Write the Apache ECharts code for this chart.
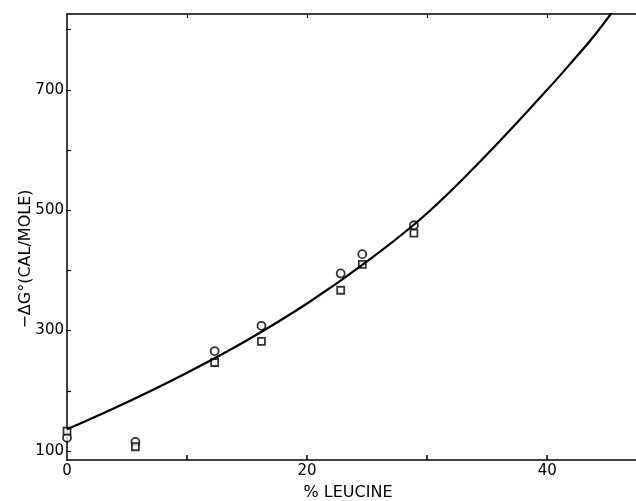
<!DOCTYPE html>
<html>
<head>
<meta charset="utf-8">
<script src="https://cdn.jsdelivr.net/npm/echarts@6/dist/echarts.min.js"></script>
<style>
  html, body { margin: 0; padding: 0; background: #fff; }
  #chart { width: 636px; height: 501px; }
</style>
</head>
<body>
<div id="chart"></div>
<script>
// points
const leucine = [0, 5.7, 12.3, 16.2, 22.8, 24.6, 28.9]
const circleVals = [122, 115, 266, 308, 395, 427, 475]
const squareVals = [133, 107, 247, 282, 367, 410, 462]

// fitted curve
const curveX = [0, 5, 10, 15, 20, 25, 30, 35, 40, 42, 44, 46]
const curveY = [136, 181, 230, 284, 345, 415, 495, 593, 700, 745, 792, 845]

const yTicks = [100, 200, 300, 400, 500, 600, 700, 800]
const yLabels = [100, 300, 500, 700]
const xTicks = [10, 20, 30, 40]
const xLabels = [0, 20, 40]

const font = 'DejaVu Sans'
const pair = (xs, ys) => xs.map((x, i) => [x, ys[i]])

const myChart = echarts.init(document.getElementById('chart'))
const option = {
  animation: false,
  grid: { left: 67, right: 0, top: 14, bottom: 41 },
  xAxis: [
    {
      type: 'value', min: 0, max: 47.4,
      axisLine: { lineStyle: { color: '#000', width: 1.5 } },
      axisTick: { inside: true, length: 5, customValues: xTicks, lineStyle: { color: '#000', width: 1.5 } },
      axisLabel: { customValues: xLabels, color: '#000', fontFamily: font, fontSize: 15, margin: 4 },
      splitLine: { show: false }
    },
    {
      type: 'value', min: 0, max: 47.4, position: 'top',
      axisLine: { show: true, lineStyle: { color: '#000', width: 1.5 } },
      axisTick: { inside: true, length: 4, customValues: xTicks, lineStyle: { color: '#000', width: 1.2 } },
      axisLabel: { show: false },
      splitLine: { show: false }
    }
  ],
  yAxis: {
    type: 'value', min: 85, max: 826,
    axisLine: { show: true, lineStyle: { color: '#000', width: 1.5 } },
    axisTick: { show: true, inside: true, length: 4, customValues: yTicks, lineStyle: { color: '#000', width: 1.2 } },
    axisLabel: { customValues: yLabels, color: '#000', fontFamily: font, fontSize: 15, margin: 3 },
    splitLine: { show: false }
  },
  graphic: [
    {
      type: 'text', x: 26, y: 259, rotation: Math.PI / 2,
      style: { text: '−ΔG°(CAL/MOLE)', fill: '#000', font: '16px "DejaVu Sans"', align: 'center', verticalAlign: 'middle' }
    },
    {
      type: 'text', x: 348, y: 493,
      style: { text: '% LEUCINE', fill: '#000', font: '16px "DejaVu Sans"', align: 'center', verticalAlign: 'middle' }
    }
  ],
  series: [
    {
      type: 'line', data: pair(curveX, curveY), smooth: 0.4, showSymbol: false, clip: true,
      lineStyle: { color: '#000', width: 2.2 }
    },
    {
      type: 'scatter', data: pair(leucine, circleVals), symbol: 'circle', symbolSize: 8,
      itemStyle: { color: '#fff', borderColor: '#000', borderWidth: 1.8 }
    },
    {
      type: 'scatter', data: pair(leucine, squareVals), symbol: 'rect', symbolSize: 7,
      itemStyle: { color: '#fff', borderColor: '#000', borderWidth: 1.8 }
    }
  ]
}
myChart.setOption(option)
</script>
</body>
</html>
